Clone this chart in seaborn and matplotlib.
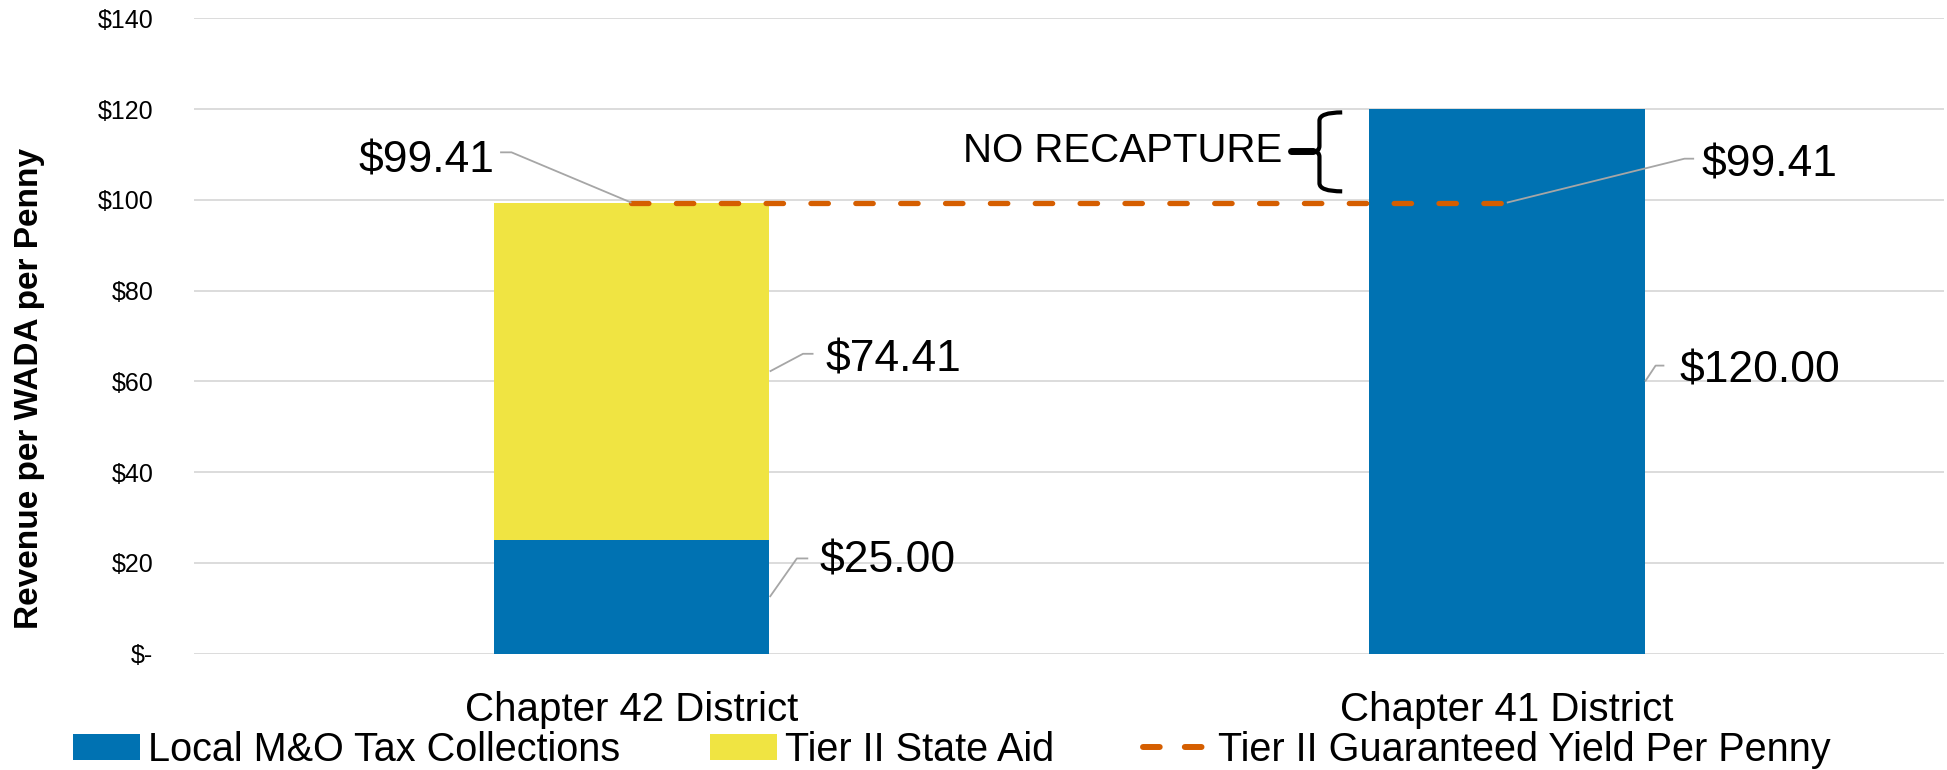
import numpy as np
import pandas as pd
import matplotlib
matplotlib.use("Agg")
import matplotlib.pyplot as plt
from matplotlib import font_manager
from matplotlib.path import Path
from matplotlib.patches import PathPatch, Patch
from matplotlib.lines import Line2D
import seaborn as sns

# ---- data ----
districts = ["Chapter 42 District", "Chapter 41 District"]
local_mo = [25.00, 120.00]
tier2_aid = [74.41, 0.00]
guaranteed_yield = [99.41, 99.41]
y_ticks = [0, 20, 40, 60, 80, 100, 120, 140]
series_names = ["Local M&O Tax Collections", "Tier II State Aid", "Tier II Guaranteed Yield Per Penny"]

BLUE = "#0072B2"
YELLOW = "#F0E442"
ORANGE = "#D55E00"
GRID = "#D9D9D9"
LEADER = "#A6A6A6"

sns.set_style("white")
avail = {f.name for f in font_manager.fontManager.ttflist}
NARROW = "Liberation Sans Narrow" if "Liberation Sans Narrow" in avail else "Liberation Sans"
plt.rcParams["font.family"] = ["Liberation Sans", "DejaVu Sans"]
plt.rcParams["text.color"] = "black"
plt.rcParams["axes.labelcolor"] = "black"
plt.rcParams["xtick.color"] = "black"
plt.rcParams["ytick.color"] = "black"

df = pd.DataFrame({"district": districts, "local": local_mo, "aid": tier2_aid})
df["total"] = df["local"] + df["aid"]

fig = plt.figure(figsize=(19.47, 7.70), dpi=100)
ax = fig.add_axes([0.0995, 0.151, 0.8992, 0.825])

sns.barplot(data=df, x="district", y="total", color=YELLOW, saturation=1, width=0.315,
            linewidth=0, ax=ax, order=districts)
sns.barplot(data=df, x="district", y="local", color=BLUE, saturation=1, width=0.315,
            linewidth=0, ax=ax, order=districts)
pos = np.arange(len(districts))
sns.lineplot(x=pos, y=guaranteed_yield, ax=ax, color=ORANGE, linewidth=3.8,
             linestyle=(0, (3.3, 5.2)), dash_capstyle="round", zorder=4)

ax.set_xlim(-0.5, 1.5)
ax.set_ylim(0, 140)
ax.set_yticks(y_ticks)
ax.set_yticklabels(["$-" if v == 0 else f"${v}" for v in y_ticks], fontsize=18)
ax.grid(axis="y", color=GRID, linewidth=1.3)
ax.set_axisbelow(True)
for s in ax.spines.values():
    s.set_visible(False)
ax.tick_params(axis="y", length=0, pad=29)
ax.tick_params(axis="x", length=0, pad=27)
for lbl in ax.get_xticklabels():
    lbl.set_fontfamily(NARROW)
    lbl.set_fontsize(29)
ax.set_xlabel("")
ax.set_ylabel("Revenue per WADA per Penny", fontsize=24, fontweight="bold", family=NARROW)
ax.yaxis.set_label_coords(-0.085, 0.417)

# ---- data labels with leader lines ----
def leader(pts):
    xs, ys = zip(*pts)
    ax.plot(xs, ys, color=LEADER, lw=1.3, zorder=5, solid_capstyle="butt")

LBL = 32
leader([(0.0, guaranteed_yield[0]), (-0.137, 110.5), (-0.150, 110.5)])
ax.text(-0.157, 108.7, f"${guaranteed_yield[0]:.2f}", fontsize=LBL, ha="right", va="center")

leader([(1.0, guaranteed_yield[1]), (1.203, 109.1), (1.214, 109.1)])
ax.text(1.222, 107.7, f"${guaranteed_yield[1]:.2f}", fontsize=LBL, ha="left", va="center")

leader([(0.158, local_mo[0] + tier2_aid[0] / 2), (0.196, 66.1), (0.208, 66.1)])
ax.text(0.222, 64.8, f"${tier2_aid[0]:.2f}", fontsize=LBL, ha="left", va="center")

leader([(0.158, local_mo[0] / 2), (0.189, 21.0), (0.202, 21.0)])
ax.text(0.215, 20.5, f"${local_mo[0]:.2f}", fontsize=LBL, ha="left", va="center")

leader([(1.158, local_mo[1] / 2), (1.170, 63.5), (1.180, 63.5)])
ax.text(1.197, 62.2, f"${local_mo[1]:.2f}", fontsize=LBL, ha="left", va="center")

# ---- NO RECAPTURE brace ----
ax.text(0.744, 110.7, "NO RECAPTURE", fontsize=29, family=NARROW, ha="right", va="center")
xt, xm, xe = 0.779, 0.786, 0.812
yt, ymid, yb = 119.3, 110.7, 101.9
verts = [(xe, yt), (xm, yt), (xm, yt - 1.8),
         (xm, ymid + 1.2), (xm, ymid), (xt, ymid),
         (xm, ymid), (xm, ymid - 1.2),
         (xm, yb + 1.8), (xm, yb), (xe, yb)]
codes = [Path.MOVETO, Path.CURVE3, Path.CURVE3,
         Path.LINETO, Path.CURVE3, Path.CURVE3,
         Path.CURVE3, Path.CURVE3,
         Path.LINETO, Path.CURVE3, Path.CURVE3]
ax.add_patch(PathPatch(Path(verts, codes), facecolor="none", edgecolor="black", lw=3.0,
                       zorder=6, capstyle="butt", joinstyle="round"))
ax.plot([0.753, xt], [ymid, ymid], color="black", lw=5.0, zorder=6, solid_capstyle="round")

# ---- legend ----
handles = [Patch(facecolor=BLUE, edgecolor="none"),
           Patch(facecolor=YELLOW, edgecolor="none"),
           Line2D([0], [0], color=ORANGE, lw=4.3, linestyle=(0, (2.8, 4.2)), dash_capstyle="round")]
fig.legend(handles, series_names, loc="center", bbox_to_anchor=(0.489, 0.026), ncol=3,
           frameon=False, prop={"family": NARROW, "size": 28.5}, handlelength=1.7,
           handleheight=0.65, handletextpad=0.2, columnspacing=2.25, borderpad=0)

fig.savefig("out.png", dpi=100)
